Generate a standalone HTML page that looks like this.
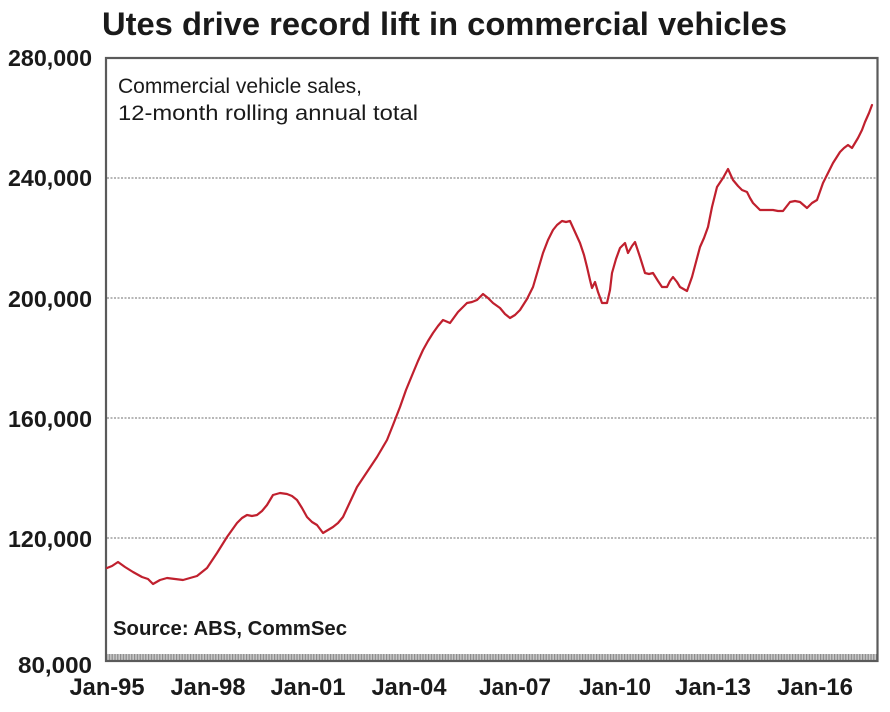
<!DOCTYPE html>
<html>
<head>
<meta charset="utf-8">
<style>
  html, body { margin:0; padding:0; background:#ffffff; }
  body { width:890px; height:712px; overflow:hidden; }
  svg { display:block; }
  text { font-family: "Liberation Sans", Arial, sans-serif; fill:#1a1a1a; }
</style>
</head>
<body>
<svg width="890" height="712" viewBox="0 0 890 712" xmlns="http://www.w3.org/2000/svg">
  <defs>
    <pattern id="ticks" x="106" y="0" width="2.8" height="10" patternUnits="userSpaceOnUse">
      <rect x="0" y="0" width="1.2" height="10" fill="#8a8a8a"/>
    </pattern>
  </defs>
  <rect x="0" y="0" width="890" height="712" fill="#ffffff"/>

  <!-- Title -->
  <text x="102" y="35" font-size="32" font-weight="bold" textLength="685" lengthAdjust="spacingAndGlyphs">Utes drive record lift in commercial vehicles</text>

  <!-- Gridlines -->
  <g stroke="#8c8c8c" stroke-width="1.3" stroke-dasharray="2,1.5">
    <line x1="107" y1="178" x2="877" y2="178"/>
    <line x1="107" y1="298" x2="877" y2="298"/>
    <line x1="107" y1="418" x2="877" y2="418"/>
    <line x1="107" y1="538" x2="877" y2="538"/>
  </g>

  <!-- Monthly tick band -->
  <rect x="106" y="654" width="771" height="7" fill="#c8c8c8"/>
  <rect x="106" y="654" width="771" height="7" fill="url(#ticks)"/>

  <!-- Plot frame -->
  <rect x="106" y="58" width="771.5" height="603" fill="none" stroke="#5a5a5a" stroke-width="2.2"/>

  <!-- Annotation -->
  <text x="118" y="93" font-size="21" textLength="244" lengthAdjust="spacingAndGlyphs">Commercial vehicle sales,</text>
  <text x="118" y="120" font-size="21" textLength="300" lengthAdjust="spacingAndGlyphs">12-month rolling annual total</text>
  <text x="113" y="635" font-size="20" font-weight="bold" textLength="234" lengthAdjust="spacingAndGlyphs">Source: ABS, CommSec</text>

  <!-- Y axis labels -->
  <g font-size="23" font-weight="bold" text-anchor="end">
    <text x="92" y="66" textLength="84" lengthAdjust="spacingAndGlyphs">280,000</text>
    <text x="92" y="186" textLength="84" lengthAdjust="spacingAndGlyphs">240,000</text>
    <text x="92" y="307" textLength="84" lengthAdjust="spacingAndGlyphs">200,000</text>
    <text x="92" y="427" textLength="84" lengthAdjust="spacingAndGlyphs">160,000</text>
    <text x="92" y="547" textLength="84" lengthAdjust="spacingAndGlyphs">120,000</text>
    <text x="92" y="673" textLength="74" lengthAdjust="spacingAndGlyphs">80,000</text>
  </g>

  <!-- X axis labels -->
  <g font-size="24" font-weight="bold" text-anchor="middle">
    <text x="107" y="695" textLength="75" lengthAdjust="spacingAndGlyphs">Jan-95</text>
    <text x="208" y="695" textLength="75" lengthAdjust="spacingAndGlyphs">Jan-98</text>
    <text x="308" y="695" textLength="75" lengthAdjust="spacingAndGlyphs">Jan-01</text>
    <text x="409" y="695" textLength="75" lengthAdjust="spacingAndGlyphs">Jan-04</text>
    <text x="515" y="695" textLength="72" lengthAdjust="spacingAndGlyphs">Jan-07</text>
    <text x="615" y="695" textLength="72" lengthAdjust="spacingAndGlyphs">Jan-10</text>
    <text x="713" y="695" textLength="76" lengthAdjust="spacingAndGlyphs">Jan-13</text>
    <text x="815" y="695" textLength="76" lengthAdjust="spacingAndGlyphs">Jan-16</text>
  </g>

  <!-- Series -->
  <polyline fill="none" stroke="#c0202e" stroke-width="2.2" stroke-linejoin="round" stroke-linecap="round"
    points="107,568 112,566 118,562 125,567 133,572 142,577 148,579 153,584 160,580 167,578 175,579 183,580 190,578 197,576 207,568 217,553 227,537 237,523 242,518 247,515 252,516 257,515 262,511 267,505 273,495 280,493 287,494 292,496 297,500 302,508 307,517 312,522 317,525 323,533 328,530 333,527 338,523 343,517 350,502 357,487 367,472 377,457 387,440 393,425 400,407 406,390 413,373 418,361 423,350 428,341 433,333 438,326 443,320 450,323 458,312 467,303 472,302 477,300 483,294 488,298 493,303 500,308 505,314 510,318 515,315 520,310 527,299 533,287 538,270 543,253 548,240 553,230 557,225 562,221 566,222 570,221 575,232 580,243 584,255 587,267 590,280 592,288 595,282 598,292 602,303 607,303 610,290 612,273 616,259 620,248 625,243 628,253 632,246 635,242 640,257 645,273 649,274 653,273 658,281 662,287 667,287 670,281 673,277 677,282 680,287 687,291 692,277 696,262 700,247 704,238 708,227 712,207 717,187 723,178 728,169 733,180 738,186 742,190 747,192 750,198 753,203 760,210 767,210 773,210 778,211 783,211 790,202 795,201 800,202 807,208 812,203 817,200 823,183 828,173 833,163 840,152 844,148 848,145 852,148 858,138 862,130 865,122 869,113 872,105"/>
</svg>
</body>
</html>
